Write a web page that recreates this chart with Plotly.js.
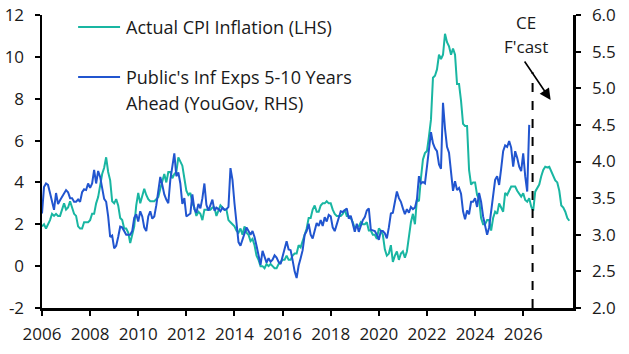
<!DOCTYPE html>
<html>
<head>
<meta charset="utf-8">
<script src="https://cdn.plot.ly/plotly-3.0.1.min.js"></script>
<style>html,body{margin:0;padding:0;background:#fff;}#chart{width:629px;height:354px;}</style>
</head>
<body>
<div id="chart"></div>
<script>
// Monthly series, first point January 2006
var cpiStartYear = 2006;
var cpiName = "Actual CPI Inflation (LHS)";
var cpiValues = [
  1.9,2.0,1.8,2.0,2.2,2.5,2.4,2.5,2.4,2.4,2.7,3.0,
  2.7,2.8,3.1,2.8,2.5,2.4,1.9,1.8,1.8,2.1,2.1,2.1,
  2.2,2.5,2.5,3.0,3.3,3.8,4.4,4.7,5.2,4.5,4.1,3.1,
  3.0,3.2,2.9,2.3,2.2,1.8,1.8,1.6,1.1,1.5,1.9,2.9,
  3.5,3.0,3.4,3.7,3.4,3.2,3.1,3.1,3.1,3.2,3.3,3.7,
  4.0,4.4,4.0,4.5,4.5,4.2,4.4,4.5,5.2,5.0,4.8,4.2,
  3.6,3.4,3.5,3.0,2.8,2.4,2.6,2.5,2.2,2.7,2.7,2.7,
  2.7,2.8,2.8,2.4,2.7,2.9,2.8,2.7,2.7,2.2,2.1,2.0,
  1.9,1.7,1.6,1.8,1.5,1.9,1.6,1.5,1.2,1.3,1.0,0.5,
  0.3,0.0,0.0,-0.1,0.1,0.0,0.1,0.0,-0.1,-0.1,0.1,0.2,
  0.3,0.3,0.5,0.3,0.3,0.5,0.6,0.6,1.0,0.9,1.2,1.6,
  1.8,2.3,2.3,2.7,2.9,2.6,2.6,2.9,3.0,3.0,3.1,3.0,
  3.0,2.7,2.5,2.4,2.4,2.4,2.5,2.7,2.4,2.4,2.3,2.1,
  1.8,1.9,1.9,2.1,2.0,2.0,2.1,1.7,1.7,1.5,1.5,1.3,
  1.8,1.7,1.5,0.8,0.5,0.6,1.0,0.2,0.5,0.7,0.3,0.6,
  0.7,0.4,0.7,1.5,2.1,2.5,2.0,3.2,3.1,4.2,5.1,5.4,
  5.5,6.2,7.0,9.0,9.1,9.4,10.1,9.9,10.1,11.1,10.7,10.5,
  10.1,10.4,10.1,8.7,8.7,7.9,6.8,6.7,6.7,4.6,3.9,4.0,
  4.0,3.4,3.2,2.3,2.0,2.0,2.2,2.2,1.7,2.3,2.6,2.5,
  3.0,2.8,2.6,3.5,3.4,3.6,3.8,3.8,3.8,3.6,3.45,3.32,
  3.48,3.16,3.08,3.24,2.84,2.65,3.56,3.7,3.9,4.3,4.6,4.75,
  4.72,4.75,4.55,4.3,4.1,4.0,3.6,2.9,2.8,2.6,2.3,2.17
];

var expStartYear = 2006;
var expNameLines = ["Public's Inf Exps 5-10 Years", "Ahead (YouGov, RHS)"];
var expValues = [
  3.29,3.65,3.70,3.68,3.57,3.45,3.34,3.57,3.42,3.47,3.52,3.58,
  3.61,3.58,3.50,3.50,3.45,3.45,3.48,3.45,3.58,3.62,3.61,3.70,
  3.64,3.70,3.885,3.70,3.87,3.79,3.62,3.49,3.45,3.25,2.97,2.99,
  2.815,2.85,2.97,3.11,3.10,3.04,3.00,3.00,3.00,3.05,3.23,3.28,
  3.18,3.32,3.25,3.10,3.05,3.25,3.32,3.22,3.25,3.40,3.60,3.79,
  3.68,3.55,3.48,3.43,3.75,3.95,4.11,3.80,3.85,3.70,3.42,3.50,
  3.25,3.27,3.29,3.55,3.35,3.30,3.42,3.36,3.50,3.70,3.41,3.33,
  3.42,3.48,3.33,3.37,3.35,3.32,3.37,3.34,3.35,3.38,3.91,3.75,
  3.43,3.15,2.90,2.85,2.93,3.04,3.10,3.05,3.00,3.05,2.97,2.85,
  2.74,2.59,2.78,2.70,2.62,2.68,2.63,2.66,2.72,2.69,2.63,2.60,
  2.70,2.82,2.91,2.80,2.79,2.65,2.50,2.41,2.58,2.68,2.79,3.00,
  3.05,3.15,3.00,2.95,3.08,3.16,3.12,3.20,3.12,3.24,3.18,3.27,
  3.25,3.10,3.05,3.15,3.22,3.32,3.31,3.33,3.36,3.22,3.26,3.15,
  3.04,3.15,3.04,3.12,3.20,3.24,3.33,3.36,3.07,3.06,3.05,3.00,
  2.93,3.05,3.05,3.02,2.95,3.10,3.29,3.30,3.45,3.59,3.50,3.45,
  3.36,3.28,3.35,3.30,3.38,3.35,3.37,3.48,3.80,3.70,3.72,3.70,
  3.93,4.16,4.40,4.25,4.18,4.14,3.96,3.90,4.80,4.45,4.20,4.12,
  3.85,3.60,3.73,3.61,3.64,3.56,3.32,3.21,3.33,3.28,3.45,3.45,
  3.50,3.38,3.57,3.45,3.25,3.12,3.00,3.10,3.30,3.52,3.75,3.80,
  3.68,3.90,4.14,4.22,4.20,4.28,4.19,3.93,4.14,4.05,3.93,3.87,
  4.11,3.80,3.59,4.50
];

var xTickVals = [2006,2008,2010,2012,2014,2016,2018,2020,2022,2024,2026];
var xTickText = ["2006","2008","2010","2012","2014","2016","2018","2020","2022","2024","2026"];
var yLeftTickVals = [-2,0,2,4,6,8,10,12];
var yLeftTickText = ["-2","0","2","4","6","8","10","12"];
var yRightTickVals = [2.0,2.5,3.0,3.5,4.0,4.5,5.0,5.5,6.0];
var forecastStart = 2026.39;
var forecastLabelLines = ["CE", "F'cast"];

function monthlyDates(startYear, n) {
  var out = [];
  for (var i = 0; i < n; i++) out.push(startYear + i / 12);
  return out;
}

var FONT = "'Open Sans', 'Noto Sans', sans-serif";
var TXT = "#1a1a1a";
var teal = "#19b6a2";
var blue = "#2155cf";

var traces = [
  {
    x: monthlyDates(cpiStartYear, cpiValues.length),
    y: cpiValues,
    type: "scatter", mode: "lines", name: cpiName,
    line: {color: teal, width: 2},
    yaxis: "y"
  },
  {
    x: monthlyDates(expStartYear, expValues.length),
    y: expValues,
    type: "scatter", mode: "lines", name: expNameLines.join(" "),
    line: {color: blue, width: 2},
    yaxis: "y2"
  }
];

var axisCommon = {
  showgrid: false, zeroline: false,
  showline: true, linecolor: "#000", linewidth: 2.5,
  ticks: "outside", ticklen: 5, tickwidth: 2, tickcolor: "#000",
  tickfont: {family: FONT, size: 17, color: TXT},
  fixedrange: true
};

// legend drawn as key lines + labels inside the plot area (paper coords)
var keyX0 = 0.068, keyX1 = 0.147, keyTextX = 0.154;
var keyRows = [
  {color: teal, y: 0.959, lines: [cpiName], lineGap: 0},
  {color: blue, y: 0.788, lines: expNameLines, lineGap: 0.0885}
];
var keyShapes = [], keyAnn = [];
keyRows.forEach(function (r) {
  keyShapes.push({type: "line", xref: "paper", yref: "paper", x0: keyX0, x1: keyX1,
    y0: r.y, y1: r.y, line: {color: r.color, width: 2}});
  r.lines.forEach(function (t, i) {
    keyAnn.push({xref: "paper", yref: "paper", x: keyTextX, y: r.y - i * r.lineGap,
      text: t, showarrow: false, xanchor: "left", yanchor: "middle",
      font: {family: FONT, size: 18, color: TXT}});
  });
});

var layout = {
  width: 629, height: 354,
  margin: {l: 42, r: 56, t: 15, b: 46},
  paper_bgcolor: "#fff", plot_bgcolor: "#fff",
  font: {family: FONT, size: 17, color: TXT},
  showlegend: false,
  xaxis: Object.assign({}, axisCommon, {
    range: [2006, 2028.07],
    tickmode: "array", tickvals: xTickVals, ticktext: xTickText,
    ticklabelstandoff: 4
  }),
  yaxis: Object.assign({}, axisCommon, {
    range: [-2, 12],
    tickmode: "array", tickvals: yLeftTickVals, ticktext: yLeftTickText,
    ticklabelstandoff: 7
  }),
  yaxis2: Object.assign({}, axisCommon, {
    range: [2, 6], overlaying: "y", side: "right",
    tickmode: "array", tickvals: yRightTickVals, tickformat: ".1f",
    ticklabelstandoff: 8
  }),
  shapes: [
    {type: "line", xref: "x", yref: "paper", x0: forecastStart, x1: forecastStart,
     y0: 0, y1: 0.805, line: {color: "#000", width: 2, dash: "dash"}}
  ].concat(keyShapes),
  annotations: [
    {xref: "x", yref: "paper", x: 2026.12, y: 0.976, text: forecastLabelLines[0],
     showarrow: false, xanchor: "center", yanchor: "middle",
     font: {family: FONT, size: 17, color: TXT}},
    {xref: "x", yref: "paper", x: 2026.12, y: 0.891, text: forecastLabelLines[1],
     showarrow: false, xanchor: "center", yanchor: "middle",
     font: {family: FONT, size: 17, color: TXT}},
    {xref: "x", yref: "paper", x: 2027.14, y: 0.71, text: "",
     showarrow: true, ax: -27, ay: -40, arrowhead: 2, arrowsize: 1.4,
     arrowwidth: 1.6, arrowcolor: "#000", standoff: 0, startstandoff: 0}
  ].concat(keyAnn)
};

Plotly.newPlot("chart", traces, layout, {staticPlot: true, displayModeBar: false});
</script>
</body>
</html>
